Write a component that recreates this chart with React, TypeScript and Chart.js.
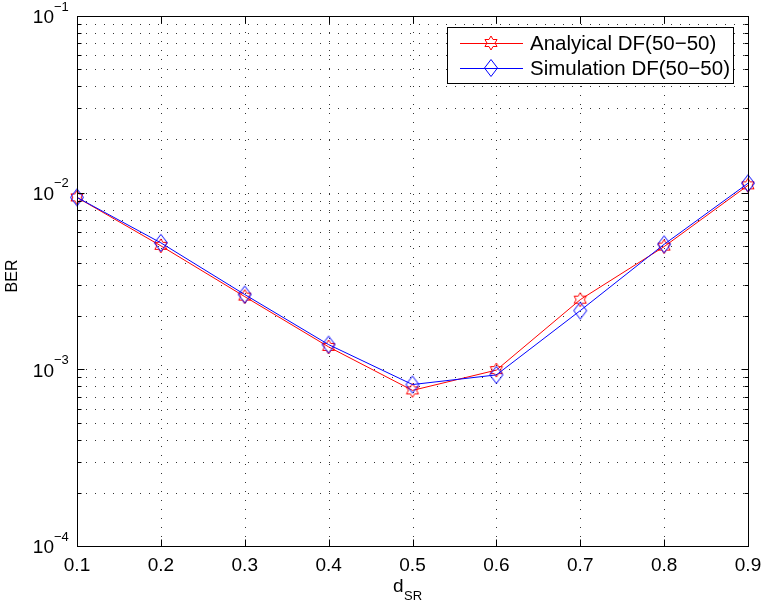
import { useEffect, useRef } from 'react';
import { Chart, registerables } from 'chart.js';

Chart.register(...registerables);

// Source–relay distance and bit error rates for the two curves
const distances = [0.1, 0.2, 0.3, 0.4, 0.5, 0.6, 0.7, 0.8, 0.9];
const analyticalBer = [9.4e-3, 5.0e-3, 2.58e-3, 1.34e-3, 7.6e-4, 9.9e-4, 2.48e-3, 4.95e-3, 1.1e-2];
const simulationBer = [9.4e-3, 5.2e-3, 2.65e-3, 1.38e-3, 8.2e-4, 9.3e-4, 2.15e-3, 5.1e-3, 1.13e-2];

const xTicks = [0.1, 0.2, 0.3, 0.4, 0.5, 0.6, 0.7, 0.8, 0.9];
const xTickLabels = ['0.1', '0.2', '0.3', '0.4', '0.5', '0.6', '0.7', '0.8', '0.9'];
const yExponents = [-4, -3, -2, -1];
const yMinorMultipliers = [2, 3, 4, 5, 6, 7, 8, 9];
const seriesLabels = ['Analyical DF(50\u221250)', 'Simulation DF(50\u221250)'];

const FONT = "'Liberation Sans', Arial, Helvetica, sans-serif";
const RED = '#ff0000';
const BLUE = '#0000ff';

function makeHexagram(color: string): HTMLCanvasElement {
  const c = document.createElement('canvas');
  c.width = 16;
  c.height = 16;
  const ctx = c.getContext('2d')!;
  const cx = 8, cy = 8, ro = 7, ri = 7 / Math.sqrt(3);
  ctx.beginPath();
  for (let i = 0; i < 12; i++) {
    const r = i % 2 === 0 ? ro : ri;
    const a = -Math.PI / 2 + (i * Math.PI) / 6;
    const px = cx + r * Math.cos(a);
    const py = cy + r * Math.sin(a);
    if (i === 0) ctx.moveTo(px, py);
    else ctx.lineTo(px, py);
  }
  ctx.closePath();
  ctx.strokeStyle = color;
  ctx.lineWidth = 1;
  ctx.stroke();
  return c;
}

function makeDiamond(color: string): HTMLCanvasElement {
  const c = document.createElement('canvas');
  c.width = 16;
  c.height = 20;
  const ctx = c.getContext('2d')!;
  ctx.beginPath();
  ctx.moveTo(8, 1.5);
  ctx.lineTo(14.5, 10);
  ctx.lineTo(8, 18.5);
  ctx.lineTo(1.5, 10);
  ctx.closePath();
  ctx.strokeStyle = color;
  ctx.lineWidth = 1;
  ctx.stroke();
  return c;
}

export default function App() {
  const canvasRef = useRef<HTMLCanvasElement | null>(null);

  useEffect(() => {
    const canvas = canvasRef.current;
    if (!canvas) return;
    const hexagram = makeHexagram(RED);
    const diamond = makeDiamond(BLUE);

    const axesPlugin = {
      id: 'matlabAxes',
      beforeDatasetsDraw(chart: any) {
        const { ctx, chartArea: a } = chart;
        const xs = chart.scales.x;
        const ys = chart.scales.y;
        ctx.save();
        ctx.strokeStyle = 'rgba(0,0,0,0.8)';
        ctx.lineWidth = 1;
        ctx.setLineDash([1, 8]);
        // horizontal dotted grid at every log tick
        const yVals: number[] = [];
        for (let i = 0; i < yExponents.length; i++) {
          const e = yExponents[i];
          if (i > 0) yVals.push(Math.pow(10, e));
          if (i < yExponents.length - 1) {
            for (const m of yMinorMultipliers) yVals.push(m * Math.pow(10, e));
          }
        }
        for (const v of yVals) {
          const y = Math.round(ys.getPixelForValue(v)) + 0.5;
          if (y <= a.top + 1) continue;
          ctx.beginPath();
          ctx.moveTo(a.left, y);
          ctx.lineTo(a.right, y);
          ctx.stroke();
        }
        // vertical dotted grid at x ticks
        for (const v of xTicks.slice(1, -1)) {
          const x = Math.round(xs.getPixelForValue(v)) + 0.5;
          ctx.beginPath();
          ctx.moveTo(x, a.bottom);
          ctx.lineTo(x, a.top);
          ctx.stroke();
        }
        ctx.restore();
      },
      afterDatasetsDraw(chart: any) {
        const { ctx, chartArea: a } = chart;
        const xs = chart.scales.x;
        const ys = chart.scales.y;
        ctx.save();
        ctx.setLineDash([]);
        ctx.strokeStyle = '#000';
        ctx.lineWidth = 1;
        const L = Math.round(a.left) + 0.5;
        const R = Math.round(a.right) + 0.5;
        const T = Math.round(a.top) + 0.5;
        const B = Math.round(a.bottom) + 0.5;
        ctx.strokeRect(L, T, R - L, B - T);

        // inward tick marks
        ctx.beginPath();
        for (const v of xTicks) {
          const x = Math.round(xs.getPixelForValue(v)) + 0.5;
          ctx.moveTo(x, B);
          ctx.lineTo(x, B - 7);
          ctx.moveTo(x, T);
          ctx.lineTo(x, T + 7);
        }
        for (let i = 0; i < yExponents.length; i++) {
          const e = yExponents[i];
          const y = Math.round(ys.getPixelForValue(Math.pow(10, e))) + 0.5;
          ctx.moveTo(L, y);
          ctx.lineTo(L + 7, y);
          ctx.moveTo(R, y);
          ctx.lineTo(R - 7, y);
          if (i < yExponents.length - 1) {
            for (const m of yMinorMultipliers) {
              const ym = Math.round(ys.getPixelForValue(m * Math.pow(10, e))) + 0.5;
              ctx.moveTo(L, ym);
              ctx.lineTo(L + 4, ym);
              ctx.moveTo(R, ym);
              ctx.lineTo(R - 4, ym);
            }
          }
        }
        ctx.stroke();

        // tick labels
        ctx.fillStyle = '#000';
        ctx.font = `19px ${FONT}`;
        ctx.textAlign = 'center';
        ctx.textBaseline = 'middle';
        xTicks.forEach((v, i) => {
          ctx.fillText(xTickLabels[i], xs.getPixelForValue(v), a.bottom + 20);
        });
        for (const e of yExponents) {
          const y = ys.getPixelForValue(Math.pow(10, e));
          ctx.font = `19px ${FONT}`;
          ctx.textAlign = 'right';
          ctx.textBaseline = 'middle';
          ctx.fillText('10', a.left - 23, y + 2);
          ctx.font = `13px ${FONT}`;
          ctx.textAlign = 'left';
          ctx.fillText('\u2212' + Math.abs(e), a.left - 23, y - 9);
        }

        // axis titles
        ctx.font = `19px ${FONT}`;
        ctx.textAlign = 'left';
        ctx.textBaseline = 'alphabetic';
        ctx.fillText('d', 393, 592);
        ctx.font = `13px ${FONT}`;
        ctx.fillText('SR', 404, 600);
        ctx.save();
        ctx.translate(17, 276);
        ctx.rotate(-Math.PI / 2);
        ctx.font = `16px ${FONT}`;
        ctx.textAlign = 'center';
        ctx.textBaseline = 'alphabetic';
        ctx.fillText('BER', 0, 0);
        ctx.restore();

        // legend
        ctx.fillStyle = '#fff';
        ctx.fillRect(447.5, 27.5, 286, 56);
        ctx.strokeStyle = '#000';
        ctx.strokeRect(447.5, 27.5, 286, 56);
        const rows = [
          { color: RED, img: hexagram, y: 43.5 },
          { color: BLUE, img: diamond, y: 68.5 },
        ];
        rows.forEach((r, i) => {
          ctx.strokeStyle = r.color;
          ctx.beginPath();
          ctx.moveTo(460, r.y);
          ctx.lineTo(523, r.y);
          ctx.stroke();
          ctx.drawImage(r.img, 491 - r.img.width / 2, r.y - 0.5 - r.img.height / 2);
          ctx.fillStyle = '#000';
          ctx.font = `20.5px ${FONT}`;
          ctx.textAlign = 'left';
          ctx.textBaseline = 'middle';
          ctx.fillText(seriesLabels[i], 530, r.y + 1);
        });
        ctx.restore();
      },
    };

    const chart = new Chart(canvas, {
      type: 'line',
      data: {
        datasets: [
          {
            label: seriesLabels[0],
            data: distances.map((d, i) => ({ x: d, y: analyticalBer[i] })),
            borderColor: RED,
            borderWidth: 1,
            pointStyle: hexagram as any,
            pointRadius: 7,
            clip: false as any,
            order: 2,
          },
          {
            label: seriesLabels[1],
            data: distances.map((d, i) => ({ x: d, y: simulationBer[i] })),
            borderColor: BLUE,
            borderWidth: 1,
            pointStyle: diamond as any,
            pointRadius: 8,
            clip: false as any,
            order: 1,
          },
        ],
      },
      options: {
        animation: false,
        responsive: false,
        devicePixelRatio: 1,
        layout: { padding: { left: 77, top: 16, right: 15, bottom: 61 } },
        plugins: { legend: { display: false }, tooltip: { enabled: false } },
        scales: {
          x: { type: 'linear', min: 0.1, max: 0.9, display: false },
          y: { type: 'logarithmic', min: 1e-4, max: 1e-1, display: false },
        },
      },
      plugins: [axesPlugin],
    });
    return () => chart.destroy();
  }, []);

  return (
    <div style={{ position: 'fixed', left: 0, top: 0, width: 763, height: 607, background: '#fff' }}>
      <canvas ref={canvasRef} width={763} height={607} style={{ width: 763, height: 607 }} />
    </div>
  );
}
